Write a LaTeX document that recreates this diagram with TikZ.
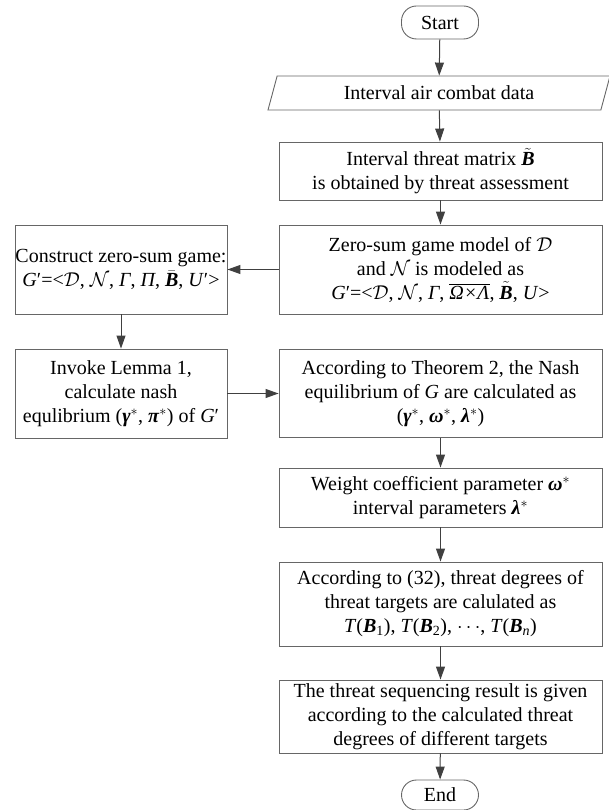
\RequirePackage{fix-cm}
\documentclass[tikz,border=0pt]{standalone}
\usepackage{fontspec}
\setmainfont{Liberation Serif}
\usepackage{tikz}
\usetikzlibrary{arrows.meta,shapes.geometric,positioning}

\newcommand{\bi}[1]{\textbf{\textit{#1}}}
\newcommand{\ci}[1]{\textit{#1}}

\begin{document}
\begin{tikzpicture}[
    x=1pt, y=-1pt,
    every node/.style={align=center, inner sep=0pt, text=black,
        font=\fontsize{20}{24}\selectfont},
    box/.style={draw=boxx, line width=0.9pt, rectangle,
        minimum width=323, minimum height=#1},
    lbox/.style={draw=boxx, line width=0.9pt, rectangle,
        minimum width=212, minimum height=#1},
    term/.style={draw=boxx, line width=0.9pt, rectangle,
        rounded corners=15pt, minimum width=77, minimum height=#1},
    io/.style={draw=boxx, line width=0.9pt, trapezium,
        trapezium left angle=57, trapezium right angle=123,
        trapezium stretches body, minimum width=342, minimum height=34},
    arr/.style={draw=arrx, line width=1pt, -{Triangle[length=13pt,width=9pt]}}
]
\colorlet{boxx}{black!60}
\colorlet{arrx}{black!75}
    \useasboundingbox (0,0) rectangle (609,810);

    \node[term=33] (start) at (440,22.5) {Start};
    \node[io] (data) at (439,93) {Interval air combat data};
    \node[box=58] (threat) at (440.5,171)
        {Interval threat matrix $\tilde{\hbox{\bi{B}}}$\\
         is obtained by threat assessment};
    \node[box=89] (game) at (440.5,269.5)
        {Zero-sum game model of $\mathcal{D}$\\
         and $\mathcal{N}$ is modeled as\\
         \ci{G}′=<$\mathcal{D}$, $\mathcal{N}$, \ci{Γ},
         $\overline{\hbox{\ci{Ω×Λ}}}$, $\tilde{\hbox{\bi{B}}}$, \ci{U}>};
    \node[lbox=89] (construct) at (121,269.5)
        {Construct zero-sum game:\\
         \ci{G}′=<$\mathcal{D}$, $\mathcal{N}$, \ci{Γ}, \ci{Π},
         $\bar{\hbox{\bi{B}}}$, \ci{U}′>};
    \node[lbox=89] (lemma) at (121,393.5)
        {Invoke Lemma 1,\\
         calculate nash\\
         equlibrium (\bi{γ}$^*$, \bi{π}$^*$) of \ci{G}′};
    \node[box=88] (theorem) at (440.5,393.5)
        {According to Theorem 2, the Nash\\
         equilibrium of \ci{G} are calculated as\\
         (\bi{γ}$^*$, \bi{ω}$^*$, \bi{λ}$^*$)};
    \node[box=59] (weight) at (440.5,497.5)
        {Weight coefficient parameter \bi{ω}$^*$\\
         interval parameters \bi{λ}$^*$};
    \node[box=84] (degrees) at (440.5,604)
        {According to (32), threat degrees of\\
         threat targets are calulated as\\
         \ci{T}(\bi{B}\textsubscript{1}), \ci{T}(\bi{B}\textsubscript{2}),
         $\cdots$, \ci{T}(\bi{B}\textsubscript{\ci{n}})};
    \node[box=73] (result) at (440.5,716.5)
        {The threat sequencing result is given\\
         according to the calculated threat\\
         degrees of different targets};
    \node[term=30] (end) at (440,795) {End};

    \draw[arr] (start) -- (data);
    \draw[arr] (data) -- (threat);
    \draw[arr] (threat) -- (game);
    \draw[arr] (game) -- (construct);
    \draw[arr] (construct) -- (lemma);
    \draw[arr] (lemma) -- (theorem);
    \draw[arr] (theorem) -- (weight);
    \draw[arr] (weight) -- (degrees);
    \draw[arr] (degrees) -- (result);
    \draw[arr] (result) -- (end);
\end{tikzpicture}
\end{document}
